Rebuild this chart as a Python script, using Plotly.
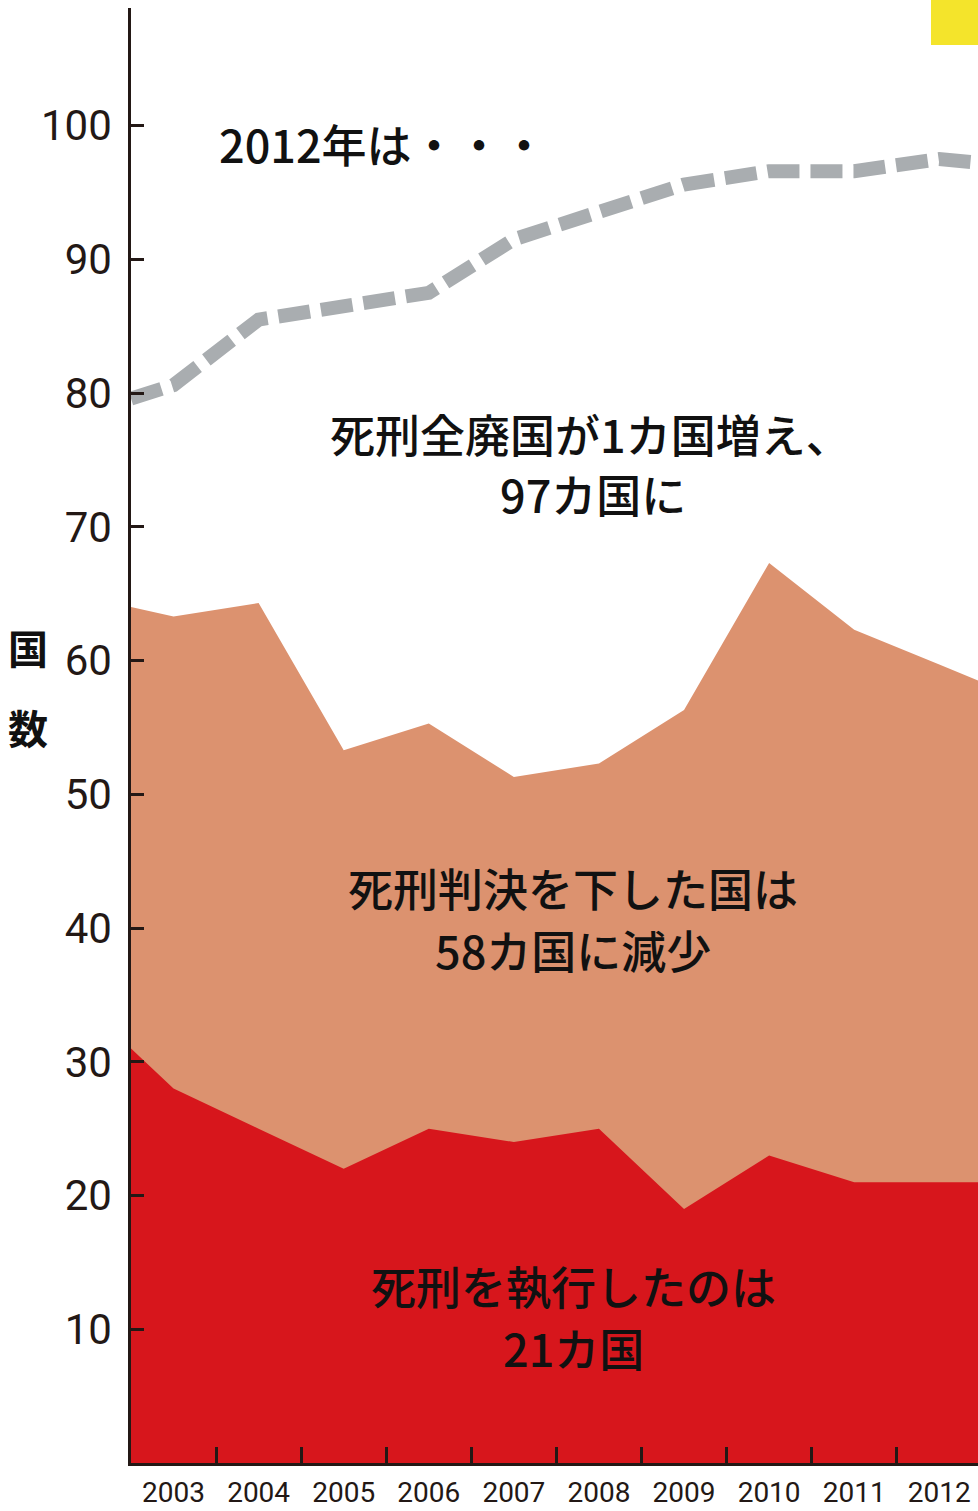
import plotly.graph_objects as go

# x positions: left edge of plot (2002.5), each year, right edge reading
years = [2002.5, 2003, 2004, 2005, 2006, 2007, 2008, 2009, 2010, 2011, 2012, 2012.5]
executed = [31, 28, 25, 22, 25, 24, 25, 19, 23, 21, 21, 21]
sentenced = [64, 63.3, 64.3, 53.3, 55.3, 51.3, 52.3, 56.3, 67.3, 62.3, 59.7, 58.4]
abolished = [79.6, 80.6, 85.5, 86.5, 87.5, 91.5, 93.5, 95.6, 96.6, 96.6, 97.5, 97.2]

tick_years = [2003, 2004, 2005, 2006, 2007, 2008, 2009, 2010, 2011, 2012]
tick_labels = [str(y) for y in tick_years]
y_ticks = [10, 20, 30, 40, 50, 60, 70, 80, 90, 100]

AX = "#231815"
JP = "Noto Sans CJK JP, Noto Sans, sans-serif"
NUM = "Roboto, Liberation Sans, sans-serif"

fig = go.Figure()
fig.add_trace(go.Scatter(x=years, y=sentenced, mode="lines", fill="tozeroy",
                         fillcolor="#dc926f", line=dict(width=0, color="#dc926f"),
                         hoverinfo="skip"))
fig.add_trace(go.Scatter(x=years, y=executed, mode="lines", fill="tozeroy",
                         fillcolor="#d7161c", line=dict(width=0, color="#d7161c"),
                         hoverinfo="skip"))
fig.add_trace(go.Scatter(x=years, y=abolished, mode="lines",
                         line=dict(width=14, color="#a9adb0", dash="32px,11px"),
                         hoverinfo="skip"))

texts = [
    ("2012年は・・・", 2003.51, 98.7, "left"),
    ("死刑全廃国が1カ国増え、", 2007.9, 77.0, "center"),
    ("97カ国に", 2007.93, 72.5, "center"),
    ("死刑判決を下した国は", 2007.69, 43.0, "center"),
    ("58カ国に減少", 2007.69, 38.4, "center"),
    ("死刑を執行したのは", 2007.7, 13.3, "center"),
    ("21カ国", 2007.7, 8.6, "center"),
]
annotations = []
for t, x, y, xa in texts:
    annotations.append(dict(text=t, x=x, y=y, xref="x", yref="y", xanchor=xa,
                            yanchor="middle", showarrow=False,
                            font=dict(family=JP, size=45, color="#111111", weight=500)))
for t, y in [("国", 61.0), ("数", 55.0)]:
    annotations.append(dict(text="<b>" + t + "</b>", x=-0.1216, y=y, xref="paper", yref="y",
                            xanchor="center", yanchor="middle", showarrow=False,
                            font=dict(family=JP, size=40, color="#111111")))

fig.update_layout(
    width=978, height=1511,
    margin=dict(l=131, r=0, t=8, b=48),
    plot_bgcolor="white", paper_bgcolor="white",
    showlegend=False,
    annotations=annotations,
    shapes=[dict(type="rect", xref="paper", yref="paper",
                 x0=0.9445, x1=1.0, y0=0.9746, y1=1.006,
                 fillcolor="#f4e42b", line=dict(width=0), layer="above")],
)
fig.update_xaxes(
    range=[2002.5, 2012.455], showgrid=False, zeroline=False, automargin=False,
    showline=True, linewidth=2.5, linecolor=AX,
    tickmode="array", tickvals=tick_years, ticktext=tick_labels, ticks="",
    ticklabelstandoff=3,
    tickfont=dict(family=NUM, size=28, color=AX),
    minor=dict(tickmode="array", tickvals=[y + 0.5 for y in tick_years[:-1]],
               ticks="inside", ticklen=16, tickwidth=2.5, tickcolor=AX, showgrid=False),
)
fig.update_yaxes(
    range=[0, 108.8], showgrid=False, zeroline=False, automargin=False,
    showline=True, linewidth=2.5, linecolor=AX,
    tickmode="array", tickvals=y_ticks, ticktext=[str(v) for v in y_ticks],
    ticks="inside", ticklen=13, tickwidth=2.5, tickcolor=AX,
    ticklabelstandoff=8,
    tickfont=dict(family=NUM, size=42, color=AX),
)

fig.write_html("out.html")
